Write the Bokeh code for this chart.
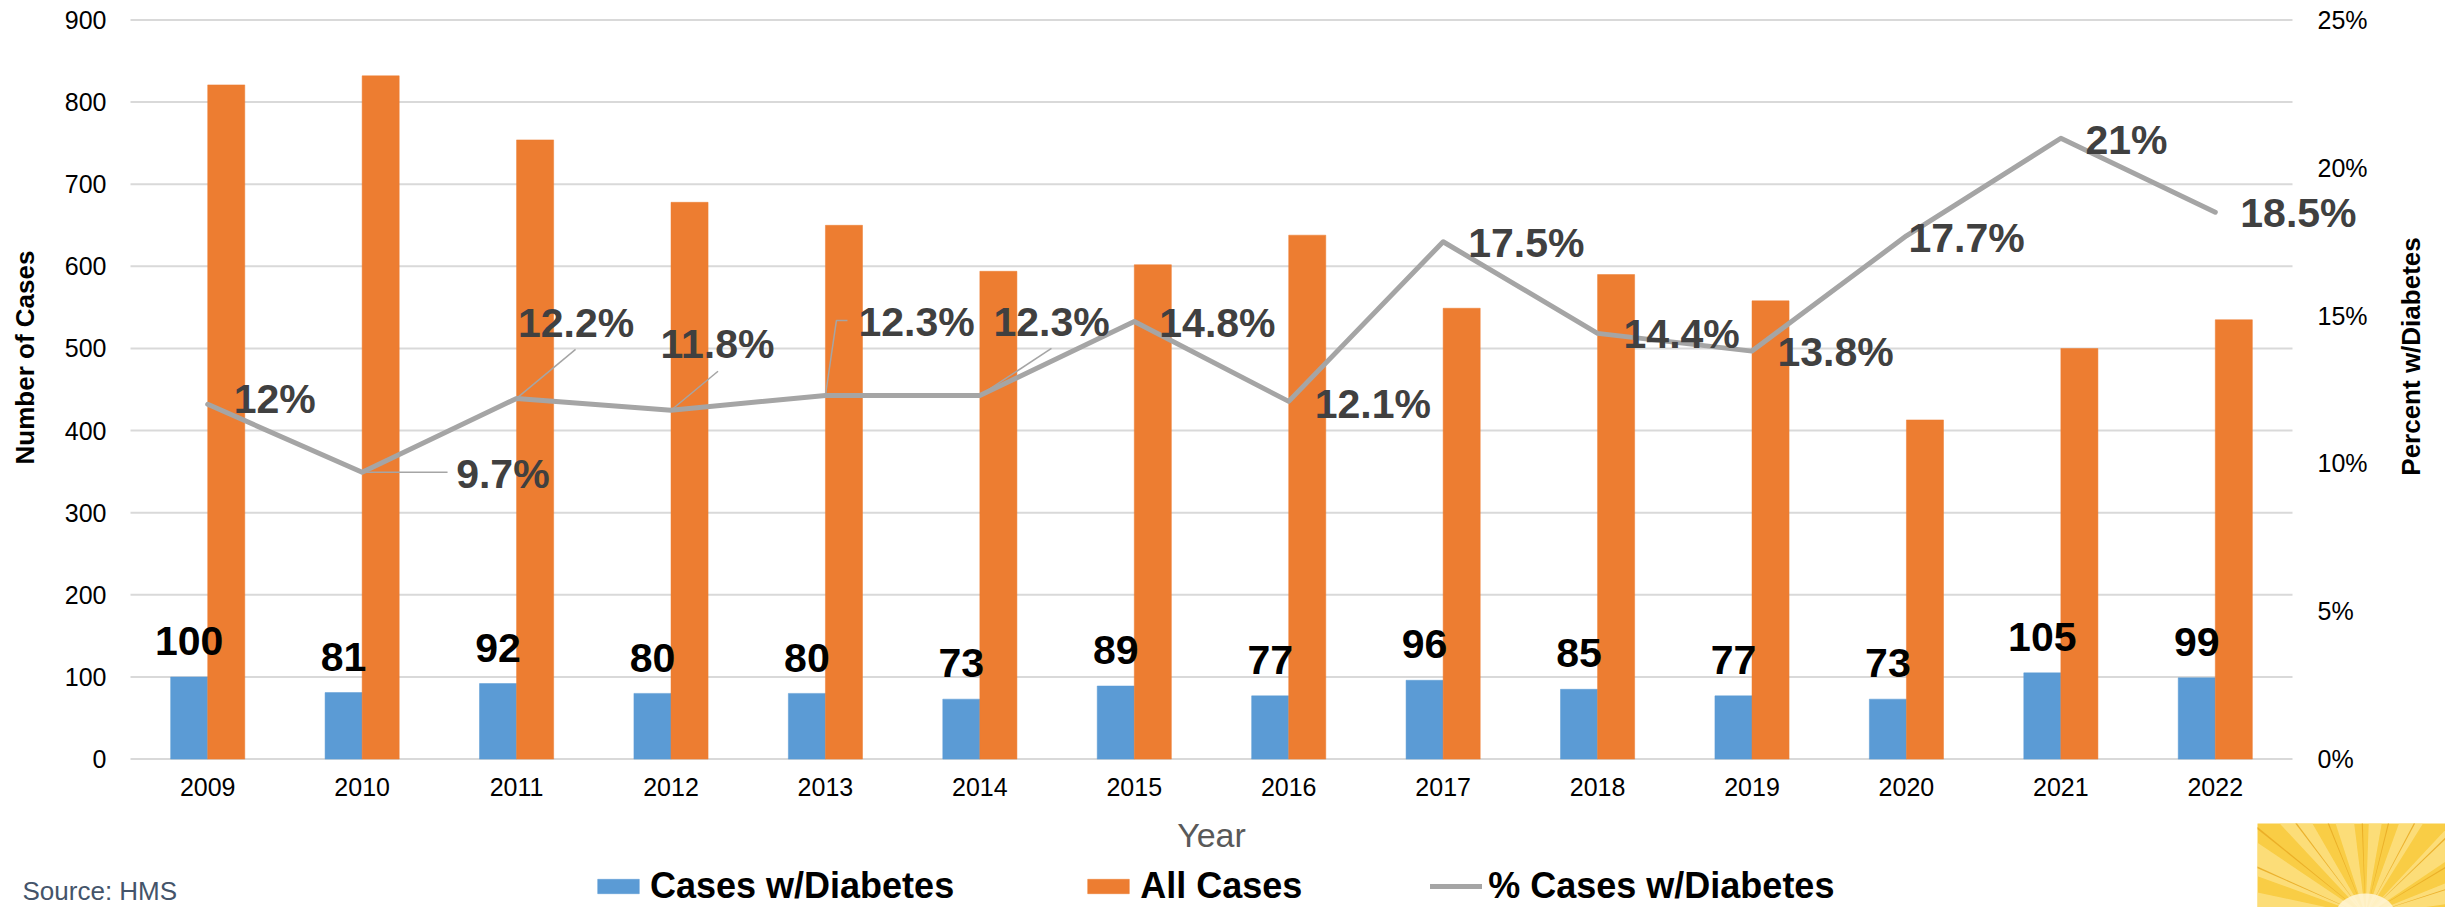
import math
from bokeh.plotting import figure
from bokeh.models import (ColumnDataSource, Range1d, LinearAxis, FixedTicker, Grid,
                          PrintfTickFormatter, CustomJSTickFormatter, Legend, LegendItem,
                          PolyAnnotation)
from bokeh.embed import file_html
from bokeh.resources import INLINE
from bokeh.core.properties import value

# ---------------- data ----------------
years = ["2009", "2010", "2011", "2012", "2013", "2014", "2015",
         "2016", "2017", "2018", "2019", "2020", "2021", "2022"]
cases_diabetes = [100, 81, 92, 80, 80, 73, 89, 77, 96, 85, 77, 73, 105, 99]
all_cases = [821, 832, 754, 678, 650, 594, 602, 638, 549, 590, 558, 413, 500, 535]
pct_diabetes = [12, 9.7, 12.2, 11.8, 12.3, 12.3, 14.8, 12.1, 17.5, 14.4, 13.8, 17.7, 21, 18.5]
left_ticks = [0, 100, 200, 300, 400, 500, 600, 700, 800, 900]
right_ticks = [0, 5, 10, 15, 20, 25]

# ---------------- geometry (pixels) ----------------
W, H = 2445, 907
PL, PR = 130, 2292          # plot area left/right
PB, PT = 758.6, 19.5        # plot area bottom/top (value 0 / value 900)
N = len(years)
CAT_PX = (PR - PL) / N
CNT_PX = (PB - PT) / 900.0
PCT_PX = (PB - PT) / 25.0
BL = 0.35                   # baseline correction (fraction of font size)

def X(px):
    return (px - PL) / CAT_PX

def Y(py):
    return (PB - py) / CNT_PX

FONT = value("Liberation Sans")

p = figure(width=W, height=H, x_range=Range1d(X(0), X(W)), y_range=Range1d(Y(H), Y(0)),
           output_backend="svg", toolbar_location=None, x_axis_location=None,
           y_axis_location=None, min_border=0)
p.extra_y_ranges = {"pct": Range1d(Y(H) / 36.0, Y(0) / 36.0)}
p.outline_line_color = None
p.background_fill_color = "white"
p.border_fill_color = "white"
for r in list(p.center):
    if isinstance(r, Grid):
        r.visible = False

def style_axis(ax):
    ax.axis_line_color = None
    ax.major_tick_line_color = None
    ax.minor_tick_line_color = None
    ax.major_tick_out = 0
    ax.major_tick_in = 0
    ax.minor_tick_out = 0
    ax.minor_tick_in = 0
    ax.major_label_text_font = "Liberation Sans"
    ax.major_label_text_font_size = "25px"
    ax.major_label_text_color = "black"

# x axis (categories at i + 0.5)
xa = LinearAxis(fixed_location=0, bounds=(0, N),
                ticker=FixedTicker(ticks=[i + 0.5 for i in range(N)]),
                formatter=CustomJSTickFormatter(args=dict(labels=years),
                                                code="return labels[Math.round(tick - 0.5)];"))
style_axis(xa)
xa.major_label_standoff = 19
xa.axis_label = "Year"
xa.axis_label_text_font = "Liberation Sans"
xa.axis_label_text_font_size = "34px"
xa.axis_label_text_font_style = "normal"
xa.axis_label_text_color = "#595959"
xa.axis_label_standoff = 16
p.add_layout(xa, "below")

ya = LinearAxis(fixed_location=0, ticker=FixedTicker(ticks=left_ticks))
style_axis(ya)
ya.major_label_standoff = 24
p.add_layout(ya, "left")

ra = LinearAxis(y_range_name="pct", fixed_location=N, ticker=FixedTicker(ticks=right_ticks),
                formatter=PrintfTickFormatter(format="%d%%"))
style_axis(ra)
ra.major_label_standoff = 25
p.add_layout(ra, "right")

# horizontal gridlines at the count ticks
p.segment(x0=[0] * len(left_ticks), x1=[N] * len(left_ticks), y0=left_ticks, y1=left_ticks,
          line_color="#D9D9D9", line_width=2)

# ---------------- marks ----------------
xc = [i + 0.5 for i in range(N)]
src = ColumnDataSource(dict(
    xb=[x - 0.12 for x in xc], xo=[x + 0.12 for x in xc], xc=xc,
    diab=cases_diabetes, all=all_cases, pct=pct_diabetes,
    diab_txt=[str(v) for v in cases_diabetes],
    diab_ly=[v + (21.5 + BL * 41) / CNT_PX for v in cases_diabetes]))

b1 = p.vbar(x="xb", top="diab", width=0.24, source=src,
            fill_color="#5B9BD5", line_color="#5B9BD5", line_width=0.5)
b2 = p.vbar(x="xo", top="all", width=0.24, source=src,
            fill_color="#ED7D31", line_color="#ED7D31", line_width=0.5)

# leader lines (pixel offsets from the data point)
leaders = {1: [(0, 0), (85.4, 0)], 2: [(0, 0), (59, -49)], 3: [(0, 0), (47, -39)],
           4: [(0, 0), (11, -75), (22, -75)], 5: [(0, 0), (71.6, -47)]}
lxs, lys = [], []
for i, pts in leaders.items():
    lxs.append([xc[i] + dx / CAT_PX for dx, dy in pts])
    lys.append([pct_diabetes[i] - dy / PCT_PX for dx, dy in pts])
p.multi_line(xs=lxs, ys=lys, y_range_name="pct", line_color="#A5A5A5", line_width=1.5)

ln = p.line(x="xc", y="pct", source=src, y_range_name="pct", line_color="#A5A5A5",
            line_width=5, line_join="round", line_cap="round")

# bar value labels
p.text(x="xb", y="diab_ly", text="diab_txt", source=src,
       text_font=FONT, text_font_size="41px", text_font_style="bold", text_color="black",
       text_align="center", text_baseline="alphabetic")

# percent labels (pixel offsets of label baseline-left from the point)
label_dx = [26, 94, 1.4, -10.5, 33, 13.6, 25, 26, 25, 26, 25.5, 2, 24.6, 25]
label_dy = [9, 16, -61, -52, -59, -59, 16, 17, 16, 15, 15.4, 17, 16, 15.4]
psrc = ColumnDataSource(dict(
    x=[xc[i] + label_dx[i] / CAT_PX for i in range(N)],
    y=[pct_diabetes[i] - (label_dy[i] - BL * 41) / PCT_PX for i in range(N)],
    t=[f"{v:g}%" for v in pct_diabetes]))
p.text(x="x", y="y", text="t", source=psrc, y_range_name="pct",
       text_font=FONT, text_font_size="41px", text_font_style="bold", text_color="#404040",
       text_align="left", text_baseline="alphabetic")

# ---------------- titles, source ----------------
p.text(x=[X(33.3 - BL * 26)], y=[Y(357)], text=["Number of Cases"], angle=math.pi / 2,
       text_font=FONT, text_font_size="26px", text_font_style="bold", text_color="black",
       text_align="center", text_baseline="alphabetic")
p.text(x=[X(2420 - BL * 26)], y=[Y(356)], text=["Percent w/Diabetes"], angle=math.pi / 2,
       text_font=FONT, text_font_size="26px", text_font_style="bold", text_color="black",
       text_align="center", text_baseline="alphabetic")
p.text(x=[X(22)], y=[Y(900 - BL * 26)], text=["Source: HMS"], text_font=FONT,
       text_font_size="26px", text_color="#44546A", text_align="left",
       text_baseline="alphabetic")

# ---------------- legend ----------------
legend = Legend(items=[LegendItem(label="Cases w/Diabetes", renderers=[b1]),
                       LegendItem(label="All Cases", renderers=[b2]),
                       LegendItem(label="% Cases w/Diabetes", renderers=[ln])],
                orientation="horizontal", location=(592, 0),
                glyph_width=52, glyph_height=18, label_standoff=6, spacing=128,
                padding=0, margin=0, border_line_color=None, background_fill_alpha=0,
                label_text_font="Liberation Sans", label_text_font_size="36px",
                label_text_font_style="bold", label_text_color="black")
p.add_layout(legend)

# ---------------- decorative sun corner ----------------
RX0, RX1, RY0, RY1 = 2257, 2445, 823, 907
OX, OY = 2365, 915

def clip_rect(poly):
    def clip(pts, inside, inter):
        out = []
        for k in range(len(pts)):
            a, b = pts[k - 1], pts[k]
            ia, ib = inside(a), inside(b)
            if ib:
                if not ia:
                    out.append(inter(a, b))
                out.append(b)
            elif ia:
                out.append(inter(a, b))
        return out

    def ix(xv):
        return lambda a, b: (xv, a[1] + (b[1] - a[1]) * (xv - a[0]) / (b[0] - a[0]))

    def iy(yv):
        return lambda a, b: (a[0] + (b[0] - a[0]) * (yv - a[1]) / (b[1] - a[1]), yv)

    pts = poly
    for inside, inter in [(lambda q: q[0] >= RX0, ix(RX0)), (lambda q: q[0] <= RX1, ix(RX1)),
                          (lambda q: q[1] >= RY0, iy(RY0)), (lambda q: q[1] <= RY1, iy(RY1))]:
        if pts:
            pts = clip(pts, inside, inter)
    return pts

def add_poly(pts, color, alpha=1.0):
    pts = clip_rect(pts)
    if len(pts) < 3:
        return
    p.add_layout(PolyAnnotation(xs=[X(a) for a, b in pts], ys=[Y(b) for a, b in pts],
                                fill_color=color, fill_alpha=alpha, line_color=None))

add_poly([(RX0, RY0), (RX1, RY0), (RX1, RY1), (RX0, RY1)], "#F9CD45")
R = 400
def wedge(a1, a2):
    r1, r2 = math.radians(a1), math.radians(a2)
    return [(OX, OY), (OX + R * math.cos(r1), OY - R * math.sin(r1)),
            (OX + R * math.cos(r2), OY - R * math.sin(r2))]
for a1, a2 in [(8, 22), (34, 47), (58, 70), (80, 88), (97, 108), (120, 133), (146, 160), (168, 178)]:
    add_poly(wedge(a1, a2), "#FDE48E", 0.7)
for a in [18, 31, 44, 62, 76, 92, 112, 127, 141, 156]:
    add_poly(wedge(a - 0.35, a + 0.35), "#E9AC25", 0.9)
glow = [(OX + 30 * math.cos(math.radians(t)), OY - 22 * math.sin(math.radians(t)))
        for t in range(0, 181, 10)]
add_poly(glow, "#FFF6D8", 0.85)

open("out.html", "w").write(file_html(p, INLINE))
